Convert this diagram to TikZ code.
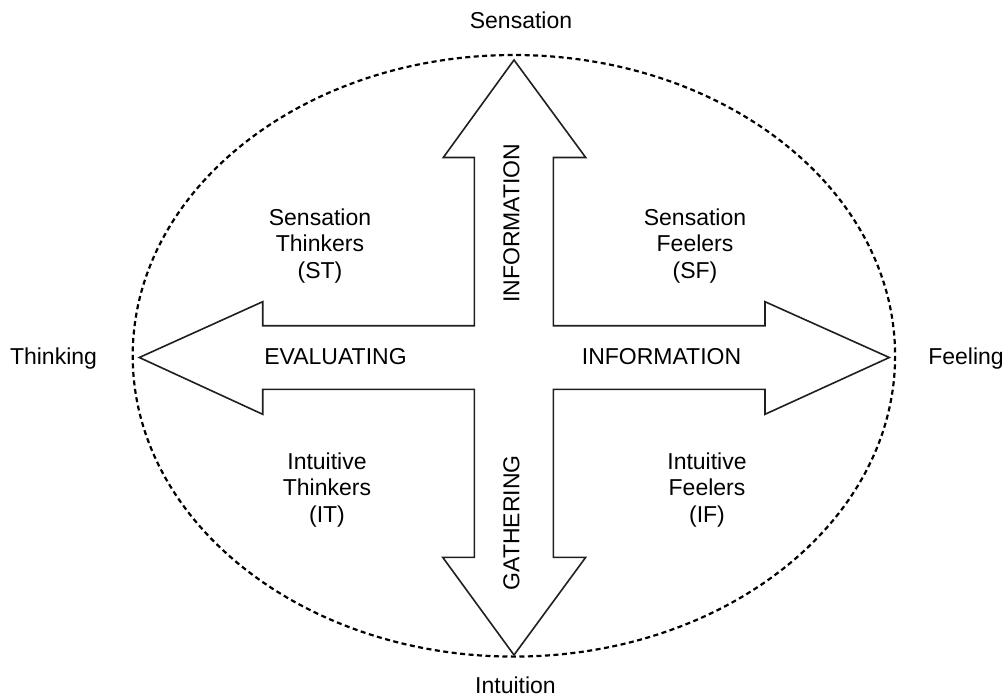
\documentclass[tikz,border=0pt]{standalone}
\usepackage{fontspec}
\setmainfont{Liberation Sans}
\begin{document}
\begin{tikzpicture}[x=1pt,y=-1pt,
  lbl/.style={font=\fontsize{23}{26.7}\selectfont, inner sep=0pt, text=black},
  quad/.style={lbl, align=center},
  crossline/.style={draw=black!88, line width=1.6pt, line join=miter},
  ring/.style={draw=black, line width=2.2pt, dash pattern=on 5pt off 3.5pt}]
  \useasboundingbox (0,0) rectangle (1008,698);

  % dashed boundary ellipse
  \draw[ring] (513.9,355.8) ellipse [x radius=381.2, y radius=300.8];

  % four-way arrow
  \draw[crossline]
    (514,60) -- (585.7,157.5) -- (553.3,157.5) -- (553.3,325.7)
    -- (765,325.7) -- (765,301.7) -- (889.3,357.5) -- (765,414.3) -- (765,389.3)
    -- (553.3,389.3) -- (553.3,557.3) -- (585.7,557.3) -- (514,655)
    -- (442.7,557.3) -- (474.3,557.3) -- (474.3,389.3)
    -- (262.7,389.3) -- (262.7,414.3) -- (139.3,357.5) -- (262.7,301.7) -- (262.7,325.7)
    -- (474.3,325.7) -- (474.3,157.5) -- (443.3,157.5) -- cycle;

  % poles
  \node[lbl, anchor=base] (sens) at (521,28.5) {Sensation};
  \node[lbl, anchor=base] (intu) at (515.5,693) {Intuition};
  \node[lbl, anchor=base] (think) at (53.5,364.3) {Thinking};
  \node[lbl, anchor=base] (feel) at (966,364.3) {Feeling};

  % axis words
  \node[lbl, anchor=base] (eval) at (335.5,364.3) {EVALUATING};
  \node[lbl, anchor=base] (infoh) at (661.5,364.3) {INFORMATION};
  \node[lbl, anchor=base, rotate=90] (infov) at (519.3,223.3) {INFORMATION};
  \node[lbl, anchor=base, rotate=90] (gath) at (519.3,523) {GATHERING};

  % quadrants
  \node[quad] (st) at (320,246) {Sensation\\Thinkers\\(ST)};
  \node[quad] (sf) at (695,246) {Sensation\\Feelers\\(SF)};
  \node[quad] (it) at (327,490) {Intuitive\\Thinkers\\(IT)};
  \node[quad] (if) at (707,490) {Intuitive\\Feelers\\(IF)};
\end{tikzpicture}
\end{document}
